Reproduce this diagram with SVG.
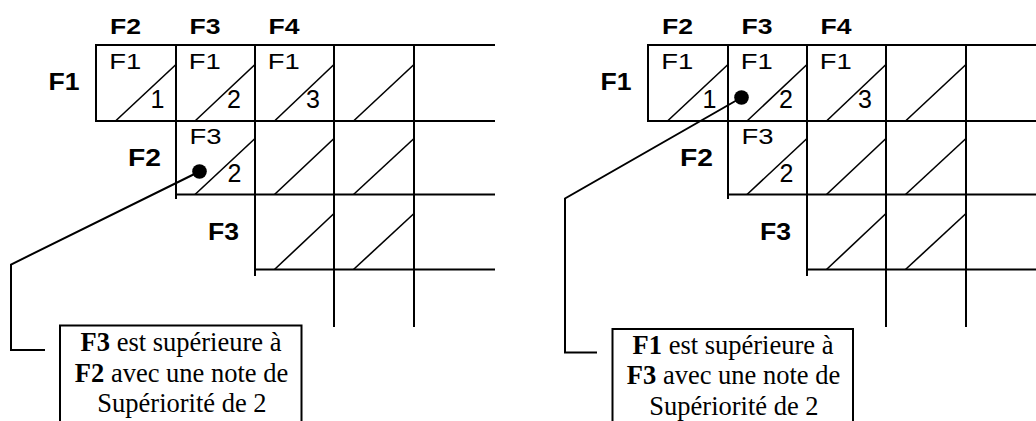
<svg xmlns="http://www.w3.org/2000/svg" width="1036" height="421" viewBox="0 0 1036 421">
<style>
.g{stroke:#000;stroke-width:2;fill:none;stroke-linecap:square}
.d{stroke:#000;stroke-width:1.6;fill:none}
.c{stroke:#000;stroke-width:2;fill:none}
.hb{font-family:"Liberation Sans",Arial,sans-serif;font-weight:bold;font-size:21.5px;fill:#000}
.rb{font-family:"Liberation Sans",Arial,sans-serif;font-weight:bold;font-size:24px;fill:#000}
.ct{font-family:"Liberation Sans",Arial,sans-serif;font-size:22.5px;fill:#000}
.nt{font-family:"Liberation Sans",Arial,sans-serif;font-size:25px;fill:#000}
.bx{font-family:"Liberation Serif","Times New Roman",serif;font-size:26.5px;fill:#000}
.box{fill:#fff;stroke:#000;stroke-width:2}
</style>

<g id="matrix-left">
  <g class="g">
    <line x1="96" y1="45" x2="494" y2="45"/>
    <line x1="96" y1="121" x2="494" y2="121"/>
    <line x1="176" y1="194.5" x2="494" y2="194.5"/>
    <line x1="255" y1="269.5" x2="494" y2="269.5"/>
    <line x1="96" y1="45" x2="96" y2="121"/>
    <line x1="176" y1="45" x2="176" y2="198"/>
    <line x1="255" y1="45" x2="255" y2="275"/>
    <line x1="334" y1="45" x2="334" y2="326"/>
    <line x1="414" y1="45" x2="414" y2="326"/>
  </g>
  <g class="d">
    <line x1="115.5" y1="121" x2="176" y2="64.5"/>
    <line x1="195" y1="121" x2="255" y2="64.5"/>
    <line x1="274.5" y1="121" x2="334" y2="64.5"/>
    <line x1="353.5" y1="121" x2="414" y2="64.5"/>
    <line x1="195" y1="194.5" x2="255" y2="138.5"/>
    <line x1="274.5" y1="194.5" x2="334" y2="138.5"/>
    <line x1="353.5" y1="194.5" x2="414" y2="138.5"/>
    <line x1="274.5" y1="269.5" x2="334" y2="213.5"/>
    <line x1="353.5" y1="269.5" x2="414" y2="213.5"/>
  </g>
  <text class="hb" x="110" y="33.5" textLength="31" lengthAdjust="spacingAndGlyphs">F2</text>
  <text class="hb" x="189.5" y="33.5" textLength="31" lengthAdjust="spacingAndGlyphs">F3</text>
  <text class="hb" x="268.5" y="33.5" textLength="31" lengthAdjust="spacingAndGlyphs">F4</text>
  <text class="rb" x="48.5" y="90" textLength="31" lengthAdjust="spacingAndGlyphs">F1</text>
  <text class="rb" x="128" y="165.5" textLength="33" lengthAdjust="spacingAndGlyphs">F2</text>
  <text class="rb" x="208" y="240" textLength="31" lengthAdjust="spacingAndGlyphs">F3</text>
  <text class="ct" x="109.3" y="69.3" textLength="32" lengthAdjust="spacingAndGlyphs">F1</text>
  <text class="ct" x="188.7" y="69.3" textLength="32" lengthAdjust="spacingAndGlyphs">F1</text>
  <text class="ct" x="267.7" y="69.3" textLength="32" lengthAdjust="spacingAndGlyphs">F1</text>
  <text class="ct" x="189.5" y="144" textLength="32" lengthAdjust="spacingAndGlyphs">F3</text>
  <text class="nt" x="150.6" y="108">1</text>
  <text class="nt" x="227" y="108">2</text>
  <text class="nt" x="306" y="108">3</text>
  <text class="nt" x="227.5" y="181.7">2</text>
</g>

<g id="matrix-right" transform="translate(552,0)">
  <g class="g">
    <line x1="96" y1="45" x2="494" y2="45"/>
    <line x1="96" y1="121" x2="494" y2="121"/>
    <line x1="176" y1="194.5" x2="494" y2="194.5"/>
    <line x1="255" y1="269.5" x2="494" y2="269.5"/>
    <line x1="96" y1="45" x2="96" y2="121"/>
    <line x1="176" y1="45" x2="176" y2="198"/>
    <line x1="255" y1="45" x2="255" y2="275"/>
    <line x1="334" y1="45" x2="334" y2="326"/>
    <line x1="414" y1="45" x2="414" y2="326"/>
  </g>
  <g class="d">
    <line x1="115.5" y1="121" x2="176" y2="64.5"/>
    <line x1="195" y1="121" x2="255" y2="64.5"/>
    <line x1="274.5" y1="121" x2="334" y2="64.5"/>
    <line x1="353.5" y1="121" x2="414" y2="64.5"/>
    <line x1="195" y1="194.5" x2="255" y2="138.5"/>
    <line x1="274.5" y1="194.5" x2="334" y2="138.5"/>
    <line x1="353.5" y1="194.5" x2="414" y2="138.5"/>
    <line x1="274.5" y1="269.5" x2="334" y2="213.5"/>
    <line x1="353.5" y1="269.5" x2="414" y2="213.5"/>
  </g>
  <text class="hb" x="110" y="33.5" textLength="31" lengthAdjust="spacingAndGlyphs">F2</text>
  <text class="hb" x="189.5" y="33.5" textLength="31" lengthAdjust="spacingAndGlyphs">F3</text>
  <text class="hb" x="268.5" y="33.5" textLength="31" lengthAdjust="spacingAndGlyphs">F4</text>
  <text class="rb" x="48.5" y="90" textLength="31" lengthAdjust="spacingAndGlyphs">F1</text>
  <text class="rb" x="128" y="165.5" textLength="33" lengthAdjust="spacingAndGlyphs">F2</text>
  <text class="rb" x="208" y="240" textLength="31" lengthAdjust="spacingAndGlyphs">F3</text>
  <text class="ct" x="109.3" y="69.3" textLength="32" lengthAdjust="spacingAndGlyphs">F1</text>
  <text class="ct" x="188.7" y="69.3" textLength="32" lengthAdjust="spacingAndGlyphs">F1</text>
  <text class="ct" x="267.7" y="69.3" textLength="32" lengthAdjust="spacingAndGlyphs">F1</text>
  <text class="ct" x="189.5" y="144" textLength="32" lengthAdjust="spacingAndGlyphs">F3</text>
  <text class="nt" x="150.6" y="108">1</text>
  <text class="nt" x="227" y="108">2</text>
  <text class="nt" x="306" y="108">3</text>
  <text class="nt" x="227.5" y="181.7">2</text>
</g>

<g id="connectors">
  <polyline class="c" points="199.5,171.5 11,264.5 11,350 45,350"/>
  <circle cx="199.5" cy="171.5" r="7.3" fill="#000"/>
  <polyline class="c" points="741.5,97.5 565,198.5 565,352.5 597,352.5"/>
  <circle cx="741.5" cy="97.5" r="7.3" fill="#000"/>
</g>

<g id="note-left">
  <rect class="box" x="60" y="325.5" width="241.5" height="100"/>
  <text class="bx" x="181" y="351" text-anchor="middle"><tspan font-weight="bold">F3</tspan> est supérieure à</text>
  <text class="bx" x="181.5" y="381.5" text-anchor="middle"><tspan font-weight="bold">F2</tspan> avec une note de</text>
  <text class="bx" x="182" y="412" text-anchor="middle">Supériorité de 2</text>
</g>

<g id="note-right">
  <rect class="box" x="612.5" y="329" width="240.5" height="100"/>
  <text class="bx" x="733" y="354" text-anchor="middle"><tspan font-weight="bold">F1</tspan> est supérieure à</text>
  <text class="bx" x="733.5" y="384" text-anchor="middle"><tspan font-weight="bold">F3</tspan> avec une note de</text>
  <text class="bx" x="734" y="414.5" text-anchor="middle">Supériorité de 2</text>
</g>
</svg>
